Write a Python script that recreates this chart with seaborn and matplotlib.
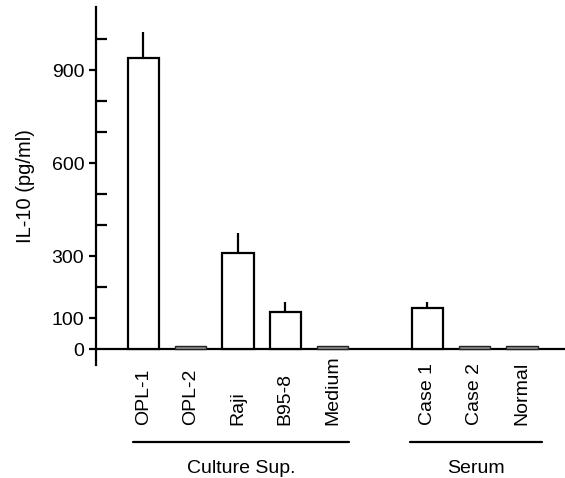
import numpy as np
import pandas as pd
import matplotlib
matplotlib.use("Agg")
import matplotlib.pyplot as plt
import seaborn as sns

# data
categories = ["OPL-1", "OPL-2", "Raji", "B95-8", "Medium", "Case 1", "Case 2", "Normal"]
positions = [0, 1, 2, 3, 4, 6, 7, 8]
il10 = [940, 11, 310, 120, 11, 132, 11, 11]
il10_err = [82, 0, 64, 32, 0, 20, 0, 0]
groups = ["Culture Sup.", "Serum"]
group_spans = [(-0.22, 4.34), (5.63, 8.42)]
major_ticks = [0, 100, 300, 600, 900]
minor_ticks = [200, 400, 500, 700, 800, 1000]

df = pd.DataFrame({"cat": categories, "pos": positions, "val": il10, "err": il10_err})

sns.set_style("ticks")
plt.rcParams["font.family"] = ["Liberation Sans", "DejaVu Sans"]
for k in ["text.color", "axes.labelcolor", "xtick.color", "ytick.color", "axes.edgecolor"]:
    plt.rcParams[k] = "black"

fig = plt.figure(figsize=(5.65, 4.78), dpi=100)
ax = fig.add_axes([0.170, 0.236, 0.830, 0.749])

pal = {c: ("white" if v > 50 else "#8f8f8f") for c, v in zip(categories, il10)}
sns.barplot(data=df, x="pos", y="val", hue="cat", palette=pal, native_scale=True,
            width=0.66, edgecolor="black", linewidth=1.6, legend=False, ax=ax,
            dodge=False, errorbar=None)
# thin outline on the near-zero bars so the grey fill shows
for patch in ax.patches:
    if patch.get_height() < 50:
        patch.set_linewidth(1.0)
        patch.set_edgecolor("#222222")

# upward-only error bars
lower = np.zeros(len(il10_err))
big = df["err"] > 0
ax.errorbar(df.loc[big, "pos"], df.loc[big, "val"],
             yerr=[lower[big.values], df.loc[big, "err"]],
             fmt="none", ecolor="black", elinewidth=1.6, capsize=0)

ax.set_xlim(-1, 8.91)
ax.set_ylim(-52, 1103)
ax.axhline(0, color="black", lw=1.6, zorder=0.5)

for s in ["top", "right", "bottom"]:
    ax.spines[s].set_visible(False)
ax.spines["left"].set_linewidth(1.6)

ax.set_yticks(major_ticks)
ax.set_yticks(minor_ticks, minor=True)
ax.tick_params(axis="y", which="major", direction="out", length=5, width=1.6, labelsize=14)
ax.tick_params(axis="y", which="minor", direction="in", length=8, width=1.6)
ax.set_xticks([])
ax.set_xlabel("")
ax.set_ylabel("IL-10 (pg/ml)", fontsize=14.5, labelpad=12)

# rotated category labels, bottoms aligned
tr = ax.get_xaxis_transform()
for p, c in zip(positions, categories):
    ax.text(p, -0.168, c, transform=tr, rotation=90, ha="center", va="bottom",
            fontsize=14, clip_on=False)

# group brackets
for g, (a, b) in zip(groups, group_spans):
    ax.plot([a, b], [-0.215, -0.215], transform=tr, color="black", lw=1.6, clip_on=False)
    ax.text((a + b) / 2, -0.288, g, transform=tr, ha="center", va="center",
            fontsize=14, clip_on=False)

plt.savefig("out.png", dpi=100)
